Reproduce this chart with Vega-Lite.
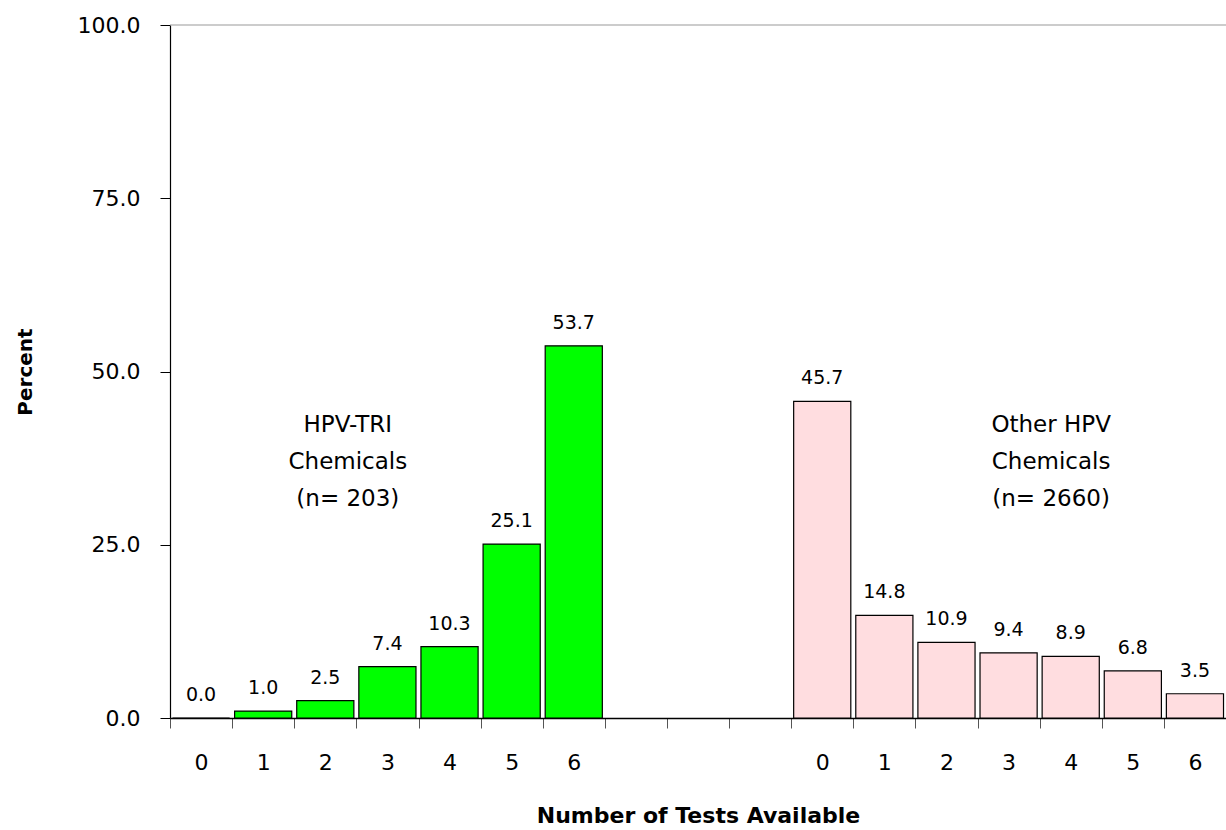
{
  "$schema": "https://vega.github.io/schema/vega-lite/v6.json",
  "width": 1056,
  "height": 693,
  "autosize": {"type": "none"},
  "padding": {"left": 170, "top": 25, "right": 0, "bottom": 112},
  "background": "white",
  "config": {
    "view": {"stroke": null},
    "font": "DejaVu Sans",
    "axis": {"grid": false}
  },
  "data": {
    "values": [
      {"slot": "A0", "group": "HPV-TRI", "percent": 0.0},
      {"slot": "A1", "group": "HPV-TRI", "percent": 1.0},
      {"slot": "A2", "group": "HPV-TRI", "percent": 2.5},
      {"slot": "A3", "group": "HPV-TRI", "percent": 7.4},
      {"slot": "A4", "group": "HPV-TRI", "percent": 10.3},
      {"slot": "A5", "group": "HPV-TRI", "percent": 25.1},
      {"slot": "A6", "group": "HPV-TRI", "percent": 53.7},
      {"slot": "B0", "group": "Other HPV", "percent": 45.7},
      {"slot": "B1", "group": "Other HPV", "percent": 14.8},
      {"slot": "B2", "group": "Other HPV", "percent": 10.9},
      {"slot": "B3", "group": "Other HPV", "percent": 9.4},
      {"slot": "B4", "group": "Other HPV", "percent": 8.9},
      {"slot": "B5", "group": "Other HPV", "percent": 6.8},
      {"slot": "B6", "group": "Other HPV", "percent": 3.5}
    ]
  },
  "layer": [
    {
      "data": {"values": [{"top": 100}]},
      "mark": {"type": "rule", "color": "#999999", "strokeWidth": 1},
      "encoding": {"y": {"field": "top", "type": "quantitative"}}
    },
    {
      "mark": {"type": "bar", "stroke": "black", "strokeWidth": 1.2},
      "encoding": {
        "x": {
          "field": "slot",
          "type": "nominal",
          "scale": {
            "domain": ["A0", "A1", "A2", "A3", "A4", "A5", "A6", "G1", "G2", "G3", "B0", "B1", "B2", "B3", "B4", "B5", "B6"],
            "paddingInner": 0.08,
            "paddingOuter": 0.04
          },
          "axis": {
            "title": "Number of Tests Available",
            "titleFontSize": 22,
            "titleFontWeight": "bold",
            "titleColor": "black",
            "titlePadding": 32,
            "labelExpr": "indexof(datum.value, 'G') == 0 ? '' : substring(datum.value, 1)",
            "labelAngle": 0,
            "labelFontSize": 22,
            "labelColor": "black",
            "labelPadding": 24,
            "tickOffset": -31,
            "labelOffset": 31,
            "tickSize": 10,
            "tickColor": "#555555",
            "domainColor": "black",
            "domainWidth": 1.5
          }
        },
        "y": {
          "field": "percent",
          "type": "quantitative",
          "scale": {"domain": [0, 100], "nice": false},
          "axis": {
            "title": "Percent",
            "titleFontSize": 20,
            "titleFontWeight": "bold",
            "titleColor": "black",
            "titlePadding": 42,
            "values": [0, 25, 50, 75, 100],
            "format": ".1f",
            "labelFontSize": 22,
            "labelColor": "black",
            "labelPadding": 20,
            "tickSize": 10,
            "tickColor": "black",
            "domainColor": "black",
            "domainWidth": 1.2
          }
        },
        "color": {
          "field": "group",
          "type": "nominal",
          "scale": {"domain": ["HPV-TRI", "Other HPV"], "range": ["#00FF00", "#FFDDE0"]},
          "legend": null
        }
      }
    },
    {
      "mark": {"type": "text", "dy": -17, "baseline": "alphabetic", "fontSize": 19, "color": "black"},
      "encoding": {
        "x": {"field": "slot", "type": "nominal"},
        "y": {"field": "percent", "type": "quantitative"},
        "text": {"field": "percent", "type": "quantitative", "format": ".1f"}
      }
    },
    {
      "data": {"values": [{"slot": "A3", "ypos": 41.3, "label": ["HPV-TRI", "Chemicals", "(n= 203)"]}]},
      "mark": {"type": "text", "align": "center", "baseline": "alphabetic", "dx": -11, "fontSize": 23, "lineHeight": 37, "color": "black"},
      "encoding": {
        "x": {"field": "slot", "type": "nominal", "bandPosition": 0},
        "y": {"field": "ypos", "type": "quantitative"},
        "text": {"field": "label"}
      }
    },
    {
      "data": {"values": [{"slot": "B4", "ypos": 41.3, "label": ["Other HPV", "Chemicals", "(n= 2660)"]}]},
      "mark": {"type": "text", "align": "center", "baseline": "alphabetic", "dx": 9, "fontSize": 23, "lineHeight": 37, "color": "black"},
      "encoding": {
        "x": {"field": "slot", "type": "nominal", "bandPosition": 0},
        "y": {"field": "ypos", "type": "quantitative"},
        "text": {"field": "label"}
      }
    }
  ]
}
